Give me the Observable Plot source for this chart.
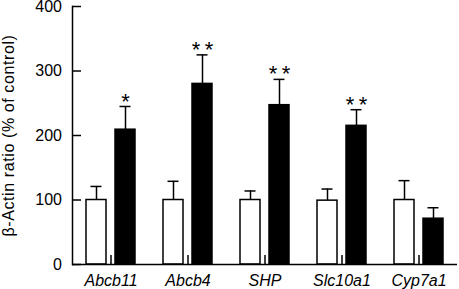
<!DOCTYPE html>
<html>
<head>
<meta charset="utf-8">
<script src="https://cdn.jsdelivr.net/npm/d3@7"></script>
<script src="https://cdn.jsdelivr.net/npm/@observablehq/plot@0.6"></script>
<style>
  html, body { margin: 0; padding: 0; background: #fff; }
  #chart svg { display: block; }
</style>
</head>
<body>
<div id="chart"></div>
<script>
const genes = ["Abcb11", "Abcb4", "SHP", "Slc10a1", "Cyp7a1"];
const groups = ["Control", "Treated"];
const controlMean = [100, 100, 100, 99, 100];
const controlErr  = [21, 29, 14, 18, 30];
const treatedMean = [209, 280, 247, 215, 71];
const treatedErr  = [36, 45, 40, 25, 17];
const significance = ["*", "*\u2009*", "*\u2009*", "*\u2009*", ""];
const yTicks = [0, 100, 200, 300, 400];
const yLabel = "β-Actin ratio (% of control)";

const rows = [];
genes.forEach((g, i) => {
  rows.push({gene: g, group: "Control", value: controlMean[i], err: controlErr[i], sig: ""});
  rows.push({gene: g, group: "Treated", value: treatedMean[i], err: treatedErr[i], sig: significance[i]});
});

const font = "'Liberation Sans', Arial, Helvetica, sans-serif";

const chart = Plot.plot({
  width: 459,
  height: 289,
  marginLeft: 70,
  marginRight: 1,
  marginTop: 6,
  marginBottom: 25,
  style: {fontFamily: font, fontSize: "16px", color: "#000", background: "#fff"},
  fx: {domain: genes, padding: 0},
  x: {domain: groups, paddingInner: 0.32, paddingOuter: 0.48, axis: null},
  y: {domain: [0, 400], ticks: yTicks},
  marks: [
    Plot.barY(rows, {
      fx: "gene", x: "group", y: "value",
      fill: d => d.group === "Control" ? "#fff" : "#000",
      stroke: "#000", strokeWidth: 1.5
    }),
    Plot.ruleX(rows, {
      fx: "gene", x: "group", y1: "value", y2: d => d.value + d.err,
      stroke: "#000", strokeWidth: 1.5
    }),
    Plot.tickY(rows, {
      fx: "gene", x: "group", y: d => d.value + d.err,
      stroke: "#000", strokeWidth: 1.5, insetLeft: 4.5, insetRight: 4.5
    }),
    Plot.text(rows.filter(d => d.sig), {
      fx: "gene", x: "group", y: d => d.value + d.err, text: "sig",
      fontSize: 22, dy: -5, fill: "#000"
    }),
    Plot.ruleY([0], {stroke: "#000", strokeWidth: 1.5}),
    Plot.frame({anchor: "left", facetAnchor: "left", stroke: "#000", strokeWidth: 1.5}),
    Plot.axisY({
      ticks: yTicks, tickSize: -9, tickPadding: 19.5, strokeWidth: 1.5,
      fontSize: 16, label: yLabel, labelAnchor: "center",
      labelArrow: "none", labelOffset: 70
    }),
    Plot.axisFx({
      anchor: "bottom", tickSize: -9, tickPadding: 19, strokeWidth: 1.5,
      fontSize: 16, fontStyle: "italic", label: null
    })
  ]
});
d3.select(chart).selectAll("text")
  .filter(function() { return this.textContent === yLabel; })
  .style("letter-spacing", "0.6px");
document.getElementById("chart").appendChild(chart);
</script>
</body>
</html>
